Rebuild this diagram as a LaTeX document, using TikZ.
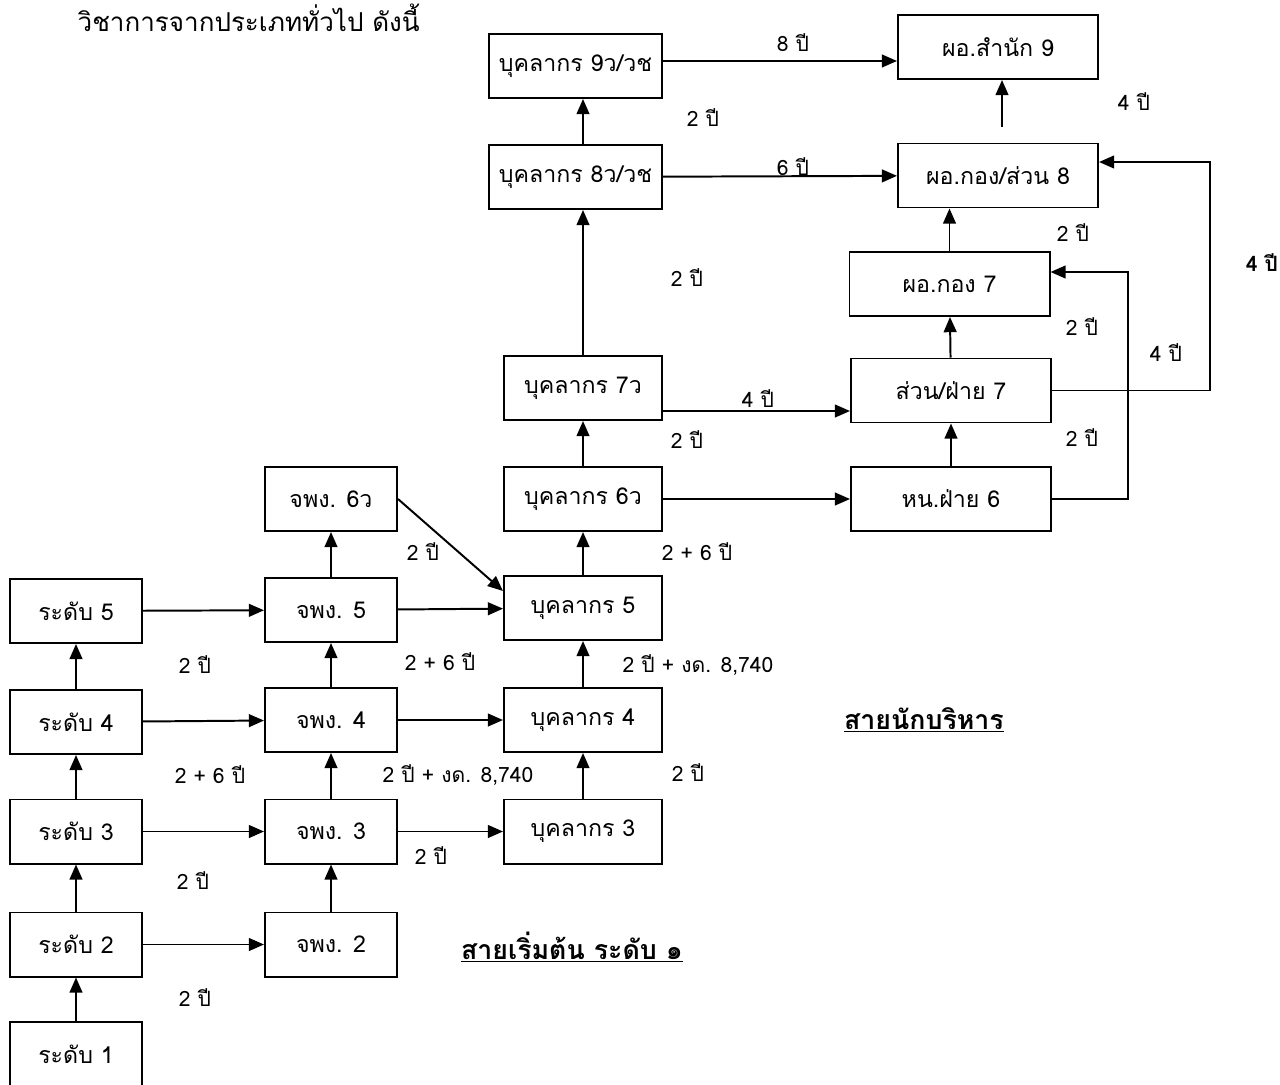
\documentclass[tikz,border=0pt]{standalone}
\usepackage{fontspec}
\setmainfont[Script=Thai]{Loma}
\usetikzlibrary{arrows.meta}

\begin{document}
\begin{tikzpicture}[x=0.025cm, y=-0.025cm, line width=1.4pt,
		>={Triangle[length=0.38cm, width=0.32cm]}]
\useasboundingbox (0,0) rectangle (1280,1084);

% Titulo
\node[anchor=base west, font=\fontsize{18.5}{20}\selectfont] (titulo) at (72,32) {วิชาการจากประเภททั่วไป ดังนี้};

% Nodos
\begin{scope}[
		every node/.style = {shape = rectangle, draw = black,
		minimum width = 3.3cm, minimum height = 1.6cm, inner sep = 0pt,
		font = \fontsize{16.5}{18}\selectfont}]
	\node (r1) at (76,1054) {ระดับ 1};
	\node (r2) at (76,944.5) {ระดับ 2};
	\node (r3) at (76,831.5) {ระดับ 3};
	\node (r4) at (76,722) {ระดับ 4};
	\node (r5) at (76,611) {ระดับ 5};
	\node (j2) at (331,944.5) {จพง. 2};
	\node (j3) at (331,831.5) {จพง. 3};
	\node (j4) at (331,720) {จพง. 4};
	\node (j5) at (331,610) {จพง. 5};
	\node (j6) at (331,499) {จพง. 6ว};
	\node[minimum width = 3.95cm] (b3) at (583,831.5) {บุคลากร 3};
	\node[minimum width = 3.95cm] (b4) at (583,720) {บุคลากร 4};
	\node[minimum width = 3.95cm] (b5) at (583,608) {บุคลากร 5};
	\node[minimum width = 3.95cm] (b6) at (583,499) {บุคลากร 6ว};
	\node[minimum width = 3.95cm] (b7) at (583,388) {บุคลากร 7ว};
	\node[minimum width = 4.325cm] (b8) at (575.5,177) {บุคลากร 8ว/วช};
	\node[minimum width = 4.325cm] (b9) at (575.5,66) {บุคลากร 9ว/วช};
	\node[minimum width = 5cm] (h6) at (951,499) {หน.ฝ่าย 6};
	\node[minimum width = 5cm] (s7) at (951,390.5) {ส่วน/ฝ่าย 7};
	\node[minimum width = 5cm] (d7) at (949.5,284) {ผอ.กอง 7};
	\node[minimum width = 5cm] (d8) at (998,175.5) {ผอ.กอง/ส่วน 8};
	\node[minimum width = 5cm] (d9) at (998,47) {ผอ.สำนัก 9};
\end{scope}

% Flechas
\coordinate (e9) at ([yshift=0.125cm]b9.east);
\coordinate (e7) at ([yshift=-0.575cm]b7.east);
\coordinate (k1) at (1128,272);
\coordinate (k2) at (1210,162);
\begin{scope}[every edge/.style = {draw = black, ->}]
	\path (r1) edge (r2) (r2) edge (r3) (r3) edge (r4) (r4) edge (r5);
	\path (j2) edge (j3) (j3) edge (j4) (j4) edge (j5) (j5) edge (j6);
	\path (b3) edge (b4) (b4) edge (b5) (b5) edge (b6) (b6) edge (b7);
	\path (b7.north) edge (b7.north |- b8.south);
	\path (b8.north -| b7) edge (b9.south -| b7);
	\path (r2) edge (j2) (r3) edge (j3) (r4) edge (j4) (r5) edge (j5);
	\path (j3) edge (b3) (j4) edge (b4) (j5) edge (b5);
	\path (j6.east) edge ([yshift=0.425cm]b5.west);
	\path (b6) edge (h6) (e7) edge (e7 -| s7.west);
	\path (b8) edge (d8) (e9) edge (e9 -| d9.west);
	\path (h6) edge (s7) (s7) edge (d7);
	\path (d7.north) edge (d7.north |- d8.south);
	\path ([xshift=0.1cm, yshift=0.4cm]d8.north) edge ([xshift=0.1cm]d9.south);
	\draw[->] (h6.east) -| (k1) -- (k1 -| d7.east);
	\draw[->] (s7.east) -| (k2) -- (k2 -| d8.east);
\end{scope}

% Etiquetas
\begin{scope}[every node/.style = {font = \fontsize{15}{17}\selectfont}]
	\node (t1) at (793,43) {8 ปี};
	\node (t2) at (793,167) {6 ปี};
	\node (t3) at (703,118) {2 ปี};
	\node (t4) at (1134,102) {4 ปี};
	\node (t5) at (1073,233) {2 ปี};
	\node[font = \bfseries\fontsize{15}{17}\selectfont] (t6) at (1262,263) {4 ปี};
	\node (t7) at (687,278) {2 ปี};
	\node (t8) at (1082,327) {2 ปี};
	\node (t9) at (1166,353) {4 ปี};
	\node (t10) at (758,399) {4 ปี};
	\node (t11) at (687,440) {2 ปี};
	\node (t12) at (1082,438) {2 ปี};
	\node (t13) at (423,552) {2 ปี};
	\node (t14) at (697,552) {2 + 6 ปี};
	\node (t15) at (195,665) {2 ปี};
	\node (t16) at (440,662) {2 + 6 ปี};
	\node (t17) at (698,665) {2 ปี + งด. 8,740};
	\node (t18) at (210,775) {2 + 6 ปี};
	\node (t19) at (458,775) {2 ปี + งด. 8,740};
	\node (t20) at (688,773) {2 ปี};
	\node (t21) at (431,856) {2 ปี};
	\node (t22) at (193,881) {2 ปี};
	\node (t23) at (195,998) {2 ปี};
	\node[font = \bfseries\fontsize{19}{21}\selectfont] (sec1) at (924,720) {\underline{สายนักบริหาร}};
	\node[font = \bfseries\fontsize{19}{21}\selectfont] (sec2) at (572,947) {\underline{สายเริ่มต้น ระดับ ๑}};
\end{scope}
\end{tikzpicture}
\end{document}
